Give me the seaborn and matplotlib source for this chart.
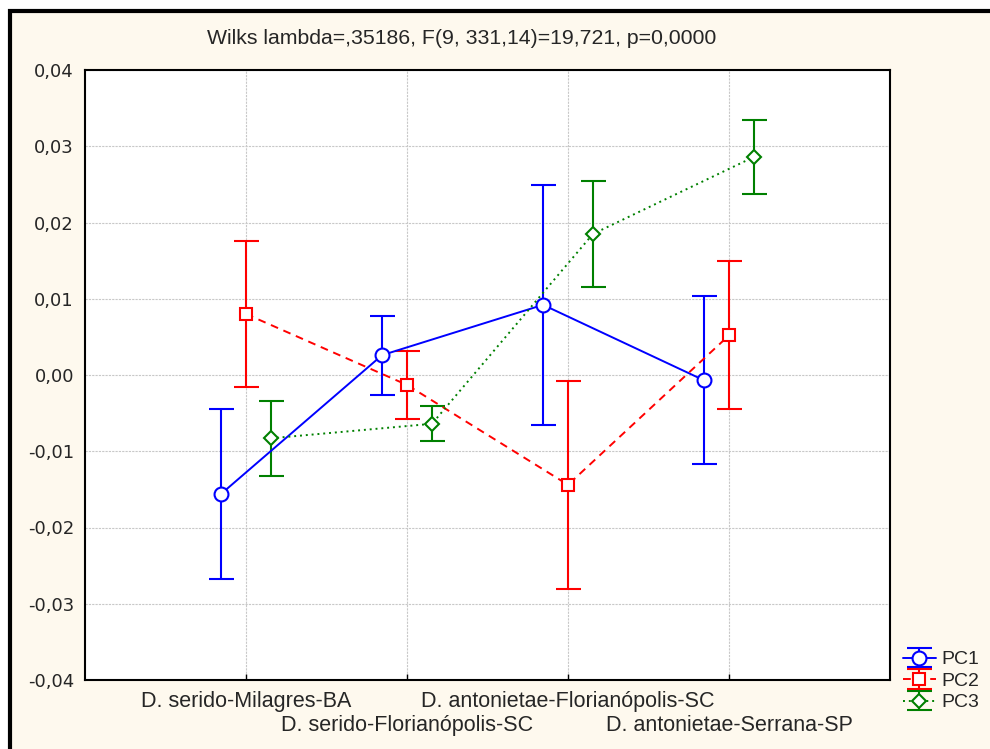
import numpy as np
import pandas as pd
import matplotlib
matplotlib.use("Agg")
import matplotlib.pyplot as plt
import seaborn as sns
from matplotlib.patches import Rectangle
from matplotlib.legend_handler import HandlerTuple

# groups on the x axis
groups = [
    "D. serido-Milagres-BA",
    "D. serido-Florianópolis-SC",
    "D. antonietae-Florianópolis-SC",
    "D. antonietae-Serrana-SP",
]
variables = ["PC1", "PC2", "PC3"]

# means and half-widths of the error bars
pc1_mean = [-0.0156, 0.0026, 0.0092, -0.0007]
pc1_err = [0.0111, 0.0052, 0.0157, 0.0110]
pc2_mean = [0.0080, -0.0013, -0.0144, 0.0052]
pc2_err = [0.0096, 0.0045, 0.0136, 0.0097]
pc3_mean = [-0.0083, -0.0064, 0.0185, 0.0286]
pc3_err = [0.0049, 0.0023, 0.0069, 0.0049]

title = "Wilks lambda=,35186, F(9, 331,14)=19,721, p=0,0000"
yticks = [-0.04, -0.03, -0.02, -0.01, 0.0, 0.01, 0.02, 0.03, 0.04]

colors = {"PC1": "#0000ff", "PC2": "#ff0000", "PC3": "#008000"}
markers = {"PC1": "o", "PC2": "s", "PC3": "D"}
msizes = {"PC1": 10, "PC2": 9, "PC3": 7}
dashes = {"PC1": "", "PC2": (4, 3), "PC3": (1, 2)}
lstyles = {"PC1": "-", "PC2": (0, (4, 3)), "PC3": (0, (1, 2))}
offsets = {"PC1": -0.155, "PC2": 0.0, "PC3": 0.155}

means = {"PC1": pc1_mean, "PC2": pc2_mean, "PC3": pc3_mean}
errs = {"PC1": pc1_err, "PC2": pc2_err, "PC3": pc3_err}

rows = []
for v in variables:
    for i, g in enumerate(groups):
        rows.append({"var": v, "group": g, "x": i + offsets[v],
                     "mean": means[v][i], "err": errs[v][i]})
df = pd.DataFrame(rows)

sns.set_theme(style="white")
plt.rcParams["font.family"] = ["Liberation Sans", "DejaVu Sans"]

fig = plt.figure(figsize=(9.9, 7.49), dpi=100, facecolor="white")
# cream panel with black border on the left and top (right/bottom run off the edge)
fig.patches.append(Rectangle((10 / 990, -0.1), 1.2, 1.1 - 11 / 749,
                             transform=fig.transFigure,
                             facecolor="#fef9ee", edgecolor="black", linewidth=3,
                             zorder=-10))
ax = fig.add_axes([85 / 990, 1 - 680 / 749, 805 / 990, 610 / 749])
ax.set_facecolor("white")

sns.lineplot(data=df, x="x", y="mean", hue="var", style="var",
             palette=colors, dashes=dashes, markers=markers,
             linewidth=1.4, legend=False, ax=ax, zorder=3)
# open markers with white face
for line, v in zip(ax.get_lines(), variables):
    line.set_markerfacecolor("white")
    line.set_markeredgecolor(colors[v])
    line.set_markeredgewidth(1.5)
    line.set_markersize(msizes[v])

handles = []
for v in variables:
    sub = df[df["var"] == v]
    eb = ax.errorbar(sub["x"], sub["mean"], yerr=sub["err"], fmt="none",
                     ecolor=colors[v], elinewidth=1.5, capsize=9, capthick=1.5,
                     zorder=2)
    ln = plt.Line2D([], [], color=colors[v], linestyle=lstyles[v], linewidth=1.4,
                    marker=markers[v], markersize=msizes[v], markerfacecolor="white",
                    markeredgecolor=colors[v], markeredgewidth=1.5)
    handles.append((eb, ln))

ax.set_xlim(-1, 4)
ax.set_ylim(-0.04, 0.04)
ax.set_yticks(yticks)
ax.set_yticklabels([f"{t:.2f}".replace(".", ",") for t in yticks],
                   fontsize=13, family="DejaVu Sans")
# staggered group labels: even ones as major ticks, odd ones as minor ticks further down
ax.set_xticks([0, 2], labels=[groups[0], groups[2]], fontsize=15.5)
ax.set_xticks([1, 3], labels=[groups[1], groups[3]], fontsize=15.5, minor=True)
ax.tick_params(axis="y", direction="out", length=4, width=1, color="black", pad=4)
ax.tick_params(axis="x", which="both", direction="in", length=4, width=1,
               color="black", pad=8, bottom=True)
ax.tick_params(axis="x", which="minor", pad=25)
ax.set_xlabel("")
ax.set_ylabel("")
ax.grid(True, which="both", axis="x", color="#c8c8c8", linestyle=(0, (2, 1)), linewidth=0.8)
ax.grid(True, which="major", axis="y", color="#c8c8c8", linestyle=(0, (2, 1)), linewidth=0.8)
for s in ax.spines.values():
    s.set_color("black")
    s.set_linewidth(1.5)

fig.text(462 / 990, 1 - 38 / 749, title, ha="center", va="center", fontsize=15.3)

fig.legend(handles, variables, loc="upper left",
           bbox_to_anchor=(895 / 990, 1 - 643 / 749), frameon=False,
           fontsize=14, handlelength=1.7, handletextpad=0.3, labelspacing=0.2,
           borderaxespad=0.0,
           handler_map={tuple: HandlerTuple(ndivide=1)})

fig.savefig("out.png", dpi=100, facecolor=fig.get_facecolor())
